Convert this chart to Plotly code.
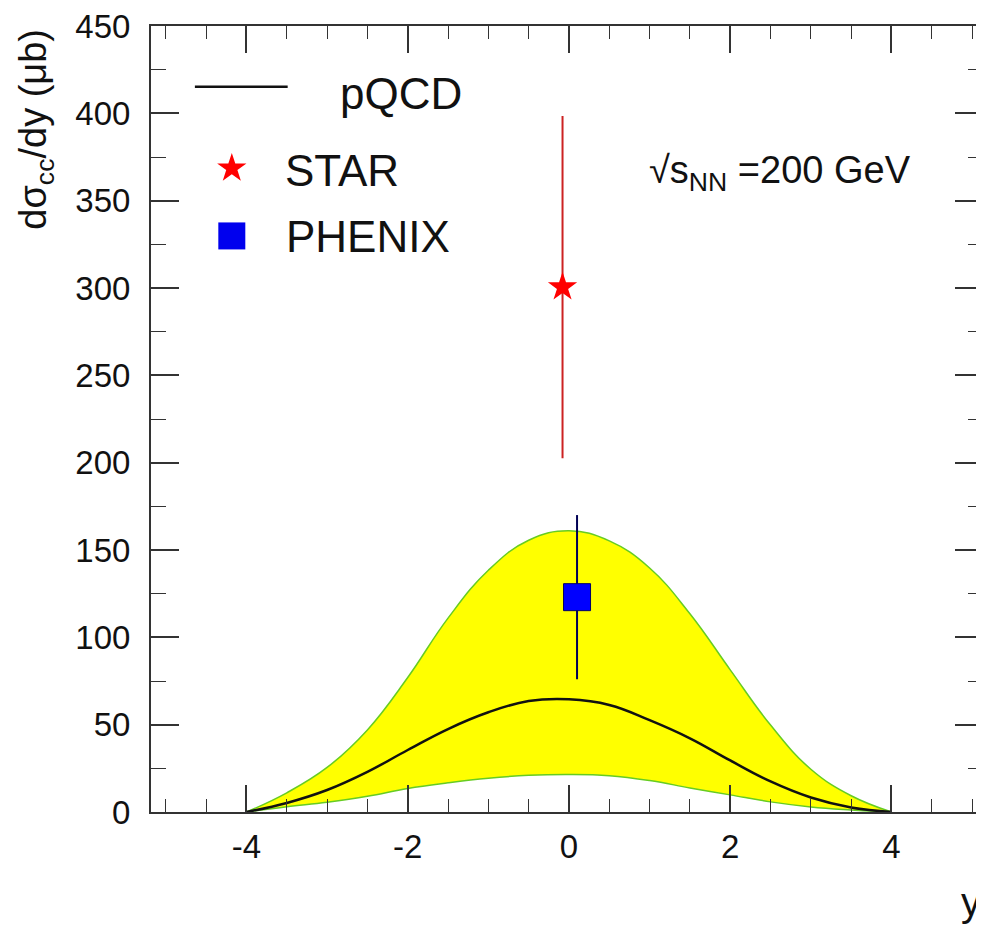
import plotly.graph_objects as go

# ---- data ----
y_grid = [-4, -3.5, -3, -2.5, -2, -1.5, -1, -0.5, 0, 0.5, 1, 1.5, 2, 2.5, 3, 3.5, 4]
pqcd_central = [0, 5.2, 12.6, 23, 35.5, 47.5, 57.1, 63.5, 64.5, 61.3, 52.6, 42.2, 29.5, 17.5, 8.3, 2.6, 0]
pqcd_upper = [0, 11, 25.5, 47, 77, 111, 138.4, 155.6, 161, 155.2, 139.7, 113.5, 81.4, 49.8, 24.5, 9.3, 0]
pqcd_lower = [0, 3, 5.6, 9, 13.5, 16.7, 19.3, 21, 21.5, 20.8, 18, 13.8, 9.8, 5.8, 2.9, 1.2, 0]

star_y = [-0.08]
star_val = [300.5]
star_err = [98]

phenix_y = [0.1]
phenix_val = [123]
phenix_err = [47]

x_ticks = [-4, -2, 0, 2, 4]
y_ticks = [0, 50, 100, 150, 200, 250, 300, 350, 400, 450]

# ---- geometry (window pixels; the page body has an 8px margin) ----
OFF = 8
L, R, T, B = 151, 985, 22, 812          # plot area in window pixels
W = R - OFF                              # figure width so plot reaches right edge
H = 925 - OFF


def px(x):
    return (x - L) / (R - L)


def py(y):
    return (B - y) / (B - T)


FONT = "Liberation Sans, Arial, Helvetica, sans-serif"
AXC = "#333333"
TXT = "#111111"

fig = go.Figure()

# band: lower then upper filled to it
spl = dict(shape="spline", smoothing=1.2)
fig.add_trace(go.Scatter(x=y_grid, y=pqcd_lower, mode="lines",
                         line=dict(color="#66cc22", width=1.5, **spl),
                         showlegend=False, hoverinfo="skip"))
fig.add_trace(go.Scatter(x=y_grid, y=pqcd_upper, mode="lines", fill="tonexty",
                         fillcolor="#ffff00",
                         line=dict(color="#66cc22", width=1.5, **spl),
                         showlegend=False, hoverinfo="skip"))
fig.add_trace(go.Scatter(x=y_grid, y=pqcd_central, mode="lines",
                         line=dict(color=TXT, width=2.5, **spl),
                         showlegend=False))

# STAR
fig.add_trace(go.Scatter(x=star_y, y=star_val, mode="markers",
                         marker=dict(symbol="star", size=22, color="#ff0000", line=dict(width=0)),
                         error_y=dict(type="data", array=star_err, visible=True,
                                      color="#cc2222", thickness=2, width=0),
                         showlegend=False))
# PHENIX
fig.add_trace(go.Scatter(x=phenix_y, y=phenix_val, mode="markers",
                         marker=dict(symbol="square", size=27, color="#0000ff",
                                     line=dict(width=1, color="#000066")),
                         error_y=dict(type="data", array=phenix_err, visible=True,
                                      color="#000055", thickness=2, width=0),
                         showlegend=False))

# legend symbols on an overlay paper-like axis
fig.add_trace(go.Scatter(x=[px(232)], y=[py(165)], mode="markers", xaxis="x2", yaxis="y2",
                         marker=dict(symbol="star", size=22, color="#ff0000", line=dict(width=0)),
                         showlegend=False, hoverinfo="skip"))
fig.add_trace(go.Scatter(x=[px(232)], y=[py(233)], mode="markers", xaxis="x2", yaxis="y2",
                         marker=dict(symbol="square", size=27, color="#0000ee", line=dict(width=0)),
                         showlegend=False, hoverinfo="skip"))

fig.add_shape(type="line", xref="paper", yref="paper",
              x0=px(195), x1=px(288), y0=py(83), y1=py(83),
              line=dict(color=TXT, width=2.5))

ann = []
ann.append(dict(text="pQCD", x=px(338), y=py(90), xanchor="left", yanchor="middle",
                font=dict(size=44, color=TXT, family=FONT)))
ann.append(dict(text="STAR", x=px(283), y=py(167), xanchor="left", yanchor="middle",
                font=dict(size=44, color=TXT, family=FONT)))
ann.append(dict(text="PHENIX", x=px(284), y=py(234), xanchor="left", yanchor="middle",
                font=dict(size=44, color=TXT, family=FONT)))
ann.append(dict(text="√s<sub>NN</sub> =200 GeV", x=px(648), y=py(170), xanchor="left", yanchor="middle",
                font=dict(size=38, color=TXT, family=FONT)))
ann.append(dict(text="dσ<sub>cc</sub>/dy (μb)", x=px(36), y=py(126), xanchor="center", yanchor="middle",
                textangle=-90, font=dict(size=38, color=TXT, family=FONT)))
ann.append(dict(text="y", x=px(961), y=py(902), xanchor="left", yanchor="middle",
                font=dict(size=40, color=TXT, family=FONT)))
for a in ann:
    a.update(xref="paper", yref="paper", showarrow=False)

fig.update_layout(
    width=W, height=H,
    margin=dict(l=L - OFF, r=0, t=T - OFF, b=H - (B - OFF), pad=0),
    paper_bgcolor="white", plot_bgcolor="white",
    showlegend=False,
    annotations=ann,
    xaxis=dict(range=[-5.184, 5.135], tickvals=x_ticks, ticktext=[str(v) for v in x_ticks],
               ticks="inside", ticklen=27, tickwidth=1.5, tickcolor=AXC,
               minor=dict(dtick=0.5, ticks="inside", ticklen=13, tickwidth=1.2, tickcolor=AXC),
               showline=True, linecolor=AXC, linewidth=2, mirror="ticks",
               showgrid=False, zeroline=False, ticklabeloverflow="allow",
               tickfont=dict(size=33, color=TXT, family=FONT), ticklabelstandoff=4),
    yaxis=dict(range=[0, 450], tickvals=y_ticks, ticktext=[str(v) for v in y_ticks],
               ticks="inside", ticklen=28, tickwidth=1.5, tickcolor=AXC,
               minor=dict(dtick=25, ticks="inside", ticklen=15, tickwidth=1.2, tickcolor=AXC),
               showline=True, linecolor=AXC, linewidth=2, mirror="ticks",
               showgrid=False, zeroline=False, ticklabeloverflow="allow",
               tickfont=dict(size=33, color=TXT, family=FONT), ticklabelstandoff=12),
    xaxis2=dict(range=[0, 1], overlaying="x", visible=False, fixedrange=True),
    yaxis2=dict(range=[0, 1], overlaying="y", visible=False, fixedrange=True),
)

fig.write_html("out.html")
